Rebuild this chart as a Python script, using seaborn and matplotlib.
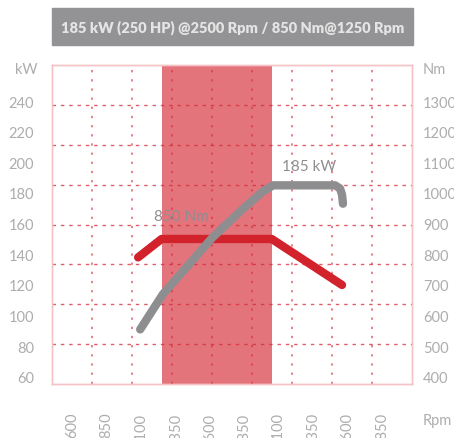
import numpy as np
import matplotlib.pyplot as plt
import seaborn as sns
from matplotlib.patches import Rectangle

# axis ticks
rpm_ticks = [600, 850, 1100, 1350, 1600, 1850, 2100, 2350, 2600, 2850]
kw_ticks = [60, 80, 100, 120, 140, 160, 180, 200, 220, 240]
nm_ticks = [400, 500, 600, 700, 800, 900, 1000, 1100, 1200, 1300]

# power curve (kW) and torque curve (Nm)
power_rpm = [1095, 1260, 1620, 1820, 1985, 2060, 2510, 2545, 2560, 2567]
power_kw = [91, 114, 151, 168, 181, 185, 185, 183, 179, 173]
torque_rpm = [1080, 1250, 2050, 2560]
torque_nm = [790, 850, 850, 700]

band_rpm = (1250, 2055)
title = "185 kW (250 HP) @2500 Rpm / 850 Nm@1250 Rpm"

sns.set_theme(style="white")
plt.rcParams['font.family'] = ['Lato', 'DejaVu Sans']

RED = '#d2222b'
GREY = '#8e8e91'
LABEL = '#adadad'

fig = plt.figure(figsize=(4.54, 4.39), dpi=100)
ax = fig.add_axes([52/454, 54/439, 360/454, 319/439])
ax2 = ax.twinx()

xlo, xhi = 455, 3068
klo, khi = 55.4, 263.5
ax.set_xlim(xlo, xhi)
ax.set_ylim(klo, khi)
ax2.set_ylim(400 + (klo - 60) * 5, 400 + (khi - 60) * 5)

# ax2 sits underneath: band, grid, torque; ax on top: power
ax.set_zorder(ax2.get_zorder() + 1)
ax.patch.set_visible(False)

ax2.axvspan(*band_rpm, color='#e4747c', lw=0, zorder=0)
nlo, nhi = ax2.get_ylim()
for k in range(1, 8):
    ax2.axhline(nlo + k / 8 * (nhi - nlo), color='#d42a38', lw=1,
                ls=(0, (2.5, 3.5)), alpha=0.75, zorder=1)
for k in range(1, 9):
    ax2.axvline(xlo + k / 9 * (xhi - xlo), color='#d42a38', lw=1.1,
                ls=(0, (1.5, 4.5)), alpha=0.75, zorder=1)

sns.lineplot(x=torque_rpm, y=torque_nm, ax=ax2, color=RED, linewidth=6,
             solid_capstyle='round', solid_joinstyle='round', zorder=3)
sns.lineplot(x=power_rpm, y=power_kw, ax=ax, color=GREY, linewidth=6,
             solid_capstyle='round', solid_joinstyle='round', zorder=4)

ax.text(2320, 197.5, "185 kW", color=GREY, fontsize=11, ha='center', va='center')
ax.text(1391, 165, "850 Nm", color=GREY, fontsize=11, ha='center', va='center')

# ticks
ax.set_yticks(kw_ticks)
ax.set_yticklabels([str(v) for v in kw_ticks])
ax2.set_yticks(nm_ticks)
ax2.set_yticklabels([str(v) for v in nm_ticks])
ax.set_xticks(rpm_ticks)
ax.set_xticklabels([str(v) for v in rpm_ticks], rotation=90, va='top')
ax.tick_params(axis='y', length=0, pad=13, labelsize=10.5, labelcolor=LABEL)
ax2.tick_params(axis='y', length=0, pad=8, labelsize=10.5, labelcolor=LABEL)
ax.tick_params(axis='x', length=0, pad=20, labelsize=10.5, labelcolor=LABEL)
ax.set_xlabel('')
ax.set_ylabel('')
ax2.set_ylabel('')

for a in (ax, ax2):
    for sp in a.spines.values():
        sp.set_color('#f5c2c6')
        sp.set_linewidth(1)

fig.text(38/454, 1 - 70/439, "kW", color=LABEL, fontsize=10.5, ha='right', va='center')
fig.text(423/454, 1 - 70/439, "Nm", color=LABEL, fontsize=10.5, ha='left', va='center')
fig.text(423/454, 1 - 421/439, "Rpm", color=LABEL, fontsize=10.5, ha='left', va='center')

# title box
fig.patches.append(Rectangle((52/454, 1 - 46/439), 361/454, 37/439,
                             transform=fig.transFigure, color='#939396', zorder=0))
fig.text(233/454, 1 - 27.5/439, title, color='#e4e4e4', fontsize=10.5,
         fontweight='heavy', ha='center', va='center')

fig.savefig('out.png', dpi=100)
